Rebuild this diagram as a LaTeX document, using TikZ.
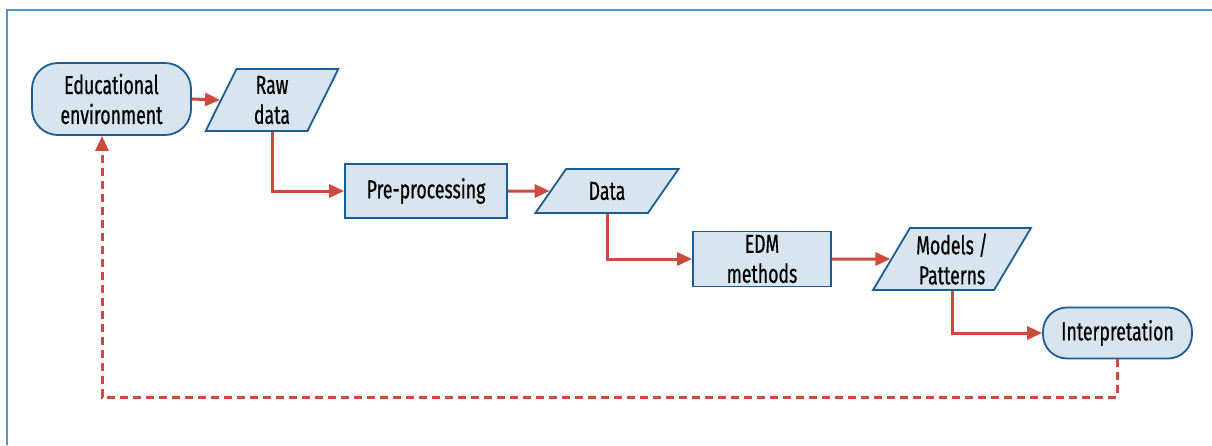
\documentclass[tikz,border=0pt]{standalone}
\usepackage{fontspec}
\setmainfont{Fira Sans}[FakeStretch=0.68,FakeBold=0.6]
\usetikzlibrary{arrows.meta,shapes.geometric}
\definecolor{arrred}{RGB}{204,75,62}
\definecolor{boxblue}{RGB}{28,92,148}
\definecolor{boxfill}{RGB}{217,229,238}
\definecolor{framecol}{RGB}{91,148,193}
\begin{document}
\begin{tikzpicture}[x=1pt,y=-1pt,
  font=\fontsize{26}{30}\selectfont,
  base/.style={draw=boxblue, fill=boxfill, line width=1.8pt, inner sep=0pt, align=center, text=black},
  para/.style={base, trapezium, trapezium stretches=true, trapezium left angle=#1, trapezium right angle={180-#1}},
  flow/.style={draw=arrred, line width=3pt, -{Triangle[length=15pt,width=13pt]}},
  loopflow/.style={flow, dash pattern=on 8pt off 5pt}]
\useasboundingbox (0,0) rectangle (1212,445);
\draw[framecol, line width=2pt] (7,445) -- (7,10) -- (1212,10);

\node[base, rounded corners=26pt, minimum width=159pt, minimum height=72pt] (edu) at (111.5,99) {Educational\\environment};
\node[para=72, minimum width=133pt, minimum height=62pt] (raw) at (272,100) {Raw\\data};
\node[base, minimum width=162pt, minimum height=54pt] (pre) at (426,191) {Pre-processing};
\node[para=53, minimum width=144pt, minimum height=44pt] (data) at (607,191) {Data};
\node[base, minimum width=138pt, minimum height=55pt] (edm) at (762,259) {EDM\\methods};
\node[para=58.5, minimum width=158pt, minimum height=62pt] (models) at (952,259) {Models /\\Patterns};
\node[base, rounded corners=24pt, minimum width=149pt, minimum height=51pt] (interp) at (1117.5,333) {Interpretation};

\draw[flow] (edu.east) -- (raw.west);
\draw[flow] (raw.south) |- (pre.west);
\draw[flow] (pre.east) -- (data.west);
\draw[flow] (data.south) |- (edm.west);
\draw[flow] (edm.east) -- (models.west);
\draw[flow] (models.south) |- (interp.west);
\coordinate (loopc) at (102,397);
\draw[loopflow] (interp.south) |- (loopc) -- (loopc |- edu.south);
\end{tikzpicture}
\end{document}
